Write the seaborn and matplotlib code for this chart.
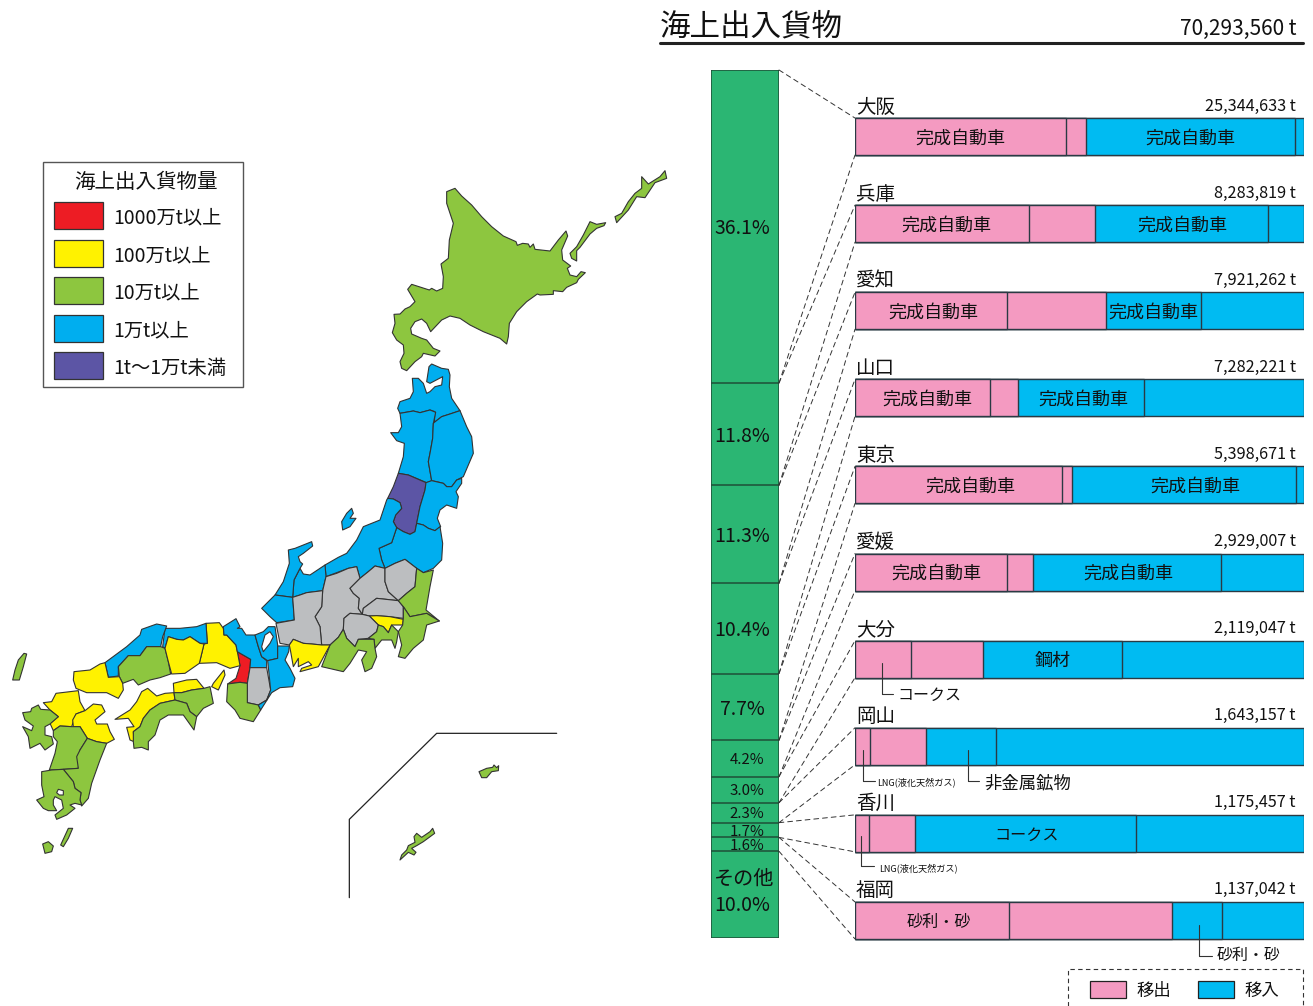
import matplotlib
matplotlib.use("Agg")
import numpy as np
import pandas as pd
import seaborn as sns
from matplotlib import pyplot as plt
from matplotlib.patches import ConnectionPatch, Rectangle

# share of total cargo per prefecture, %
column_names = ["大阪", "兵庫", "愛知", "山口", "東京", "愛媛", "大分", "岡山", "香川", "福岡", "その他"]
column_shares = [36.1, 11.8, 11.3, 10.4, 7.7, 4.2, 3.0, 2.3, 1.7, 1.6, 10.0]

prefectures = column_names[:10]
tonnage = ["25,344,633 t", "8,283,819 t", "7,921,262 t", "7,282,221 t", "5,398,671 t",
           "2,929,007 t", "2,119,047 t", "1,643,157 t", "1,175,457 t", "1,137,042 t"]
total_tonnage = "70,293,560 t"

# each bar: outgoing main item, outgoing rest, incoming main item, incoming rest (%)
out_main = [47.0, 38.8, 33.9, 30.1, 46.1, 33.9, 12.5, 3.3, 3.1, 34.3]
out_rest = [4.5, 14.7, 22.0, 6.2, 2.2, 5.8, 16.0, 12.5, 10.2, 36.3]
in_main = [46.5, 38.5, 21.2, 28.1, 49.9, 41.9, 31.0, 15.6, 49.2, 11.1]
in_rest = [2.0, 8.0, 22.9, 35.6, 1.8, 18.4, 40.5, 68.6, 37.5, 18.3]

# map outlines, in crop pixels
osaka = [(712,395),(752,418),(750,443),(742,490),(720,487),(683,492),(708,475),(720,437)]
hyogo = [(618,310),(658,308),(670,325),(672,345),(680,345),(708,375),(712,395),(720,437),(690,445),(650,428),(598,430),(612,372),(622,370)]
awaji = [(672,450),(675,465),(655,510),(635,500),(640,490)]
kyoto = [(670,320),(708,296),(720,320),(712,325),(725,325),(738,345),(765,345),(775,380),(785,410),(800,422),(800,443),(750,443),(752,418),(712,395),(708,375),(680,345),(672,345)]
shiga = [(805,320),(825,320),(833,375),(833,415),(803,422),(785,410),(775,380),(765,345),(790,335)]
biwa = [(810,335),(820,350),(810,370),(790,395),(785,380),(795,345)]
nara = [(750,443),(800,443),(812,510),(800,540),(775,555),(742,548),(742,490)]
wakayama = [(683,492),(720,487),(742,490),(742,548),(775,555),(782,570),(760,605),(720,595),(705,570),(680,545)]
mie = [(833,378),(868,378),(866,395),(855,420),(870,445),(885,475),(878,500),(840,503),(815,518),(782,570),(775,555),(800,540),(812,510),(803,422),(833,415)]
tottori = [(488,380),(495,325),(540,325),(590,320),(618,310),(622,370),(600,370),(570,350),(550,360),(530,358),(505,350),(495,385)]
shimane = [(315,428),(380,380),(420,345),(425,328),(470,312),(500,318),(488,350),(482,380),(440,380),(420,407),(385,407),(355,440),(355,468),(325,472)]
hiroshima = [(355,440),(385,407),(420,407),(440,380),(482,380),(495,385),(505,425),(512,462),(480,473),(450,480),(415,495),(400,478),(368,490),(358,470)]
okayama = [(495,385),(505,350),(530,358),(550,360),(570,350),(600,370),(612,372),(598,430),(555,460),(515,462),(505,425)]
yamaguchi = [(222,455),(270,450),(300,432),(315,428),(325,472),(358,470),(368,490),(370,510),(355,535),(320,518),(260,518),(228,505),(220,480)]
fukuoka = [(130,548),(155,545),(168,520),(235,512),(240,545),(255,572),(228,582),(215,620),(180,618),(160,632),(150,610),(175,590),(150,570)]
oita = [(218,600),(228,582),(255,572),(280,552),(305,555),(315,575),(285,600),(290,612),(322,612),(330,635),(343,658),(320,670),(290,665),(262,655),(240,620),(220,620)]
nagasaki = [(68,578),(92,575),(95,565),(115,555),(122,568),(150,570),(175,590),(150,612),(135,620),(135,645),(155,650),(160,672),(135,690),(120,670),(90,685),(85,650),(68,620),(95,632),(100,618),(75,600)]
kumamoto = [(160,632),(180,618),(215,620),(240,620),(262,655),(240,690),(235,745),(190,748),(148,750),(165,700),(172,665),(160,650)]
miyazaki = [(262,655),(290,665),(320,670),(300,720),(275,790),(265,835),(245,858),(240,840),(243,818),(225,805),(220,785),(190,748),(235,745),(230,710),(240,690)]
kagoshima = [(125,755),(155,750),(190,748),(220,785),(225,805),(243,818),(240,840),(245,855),(225,850),(210,855),(225,865),(200,885),(170,898),(165,885),(190,865),(185,840),(165,830),(160,840),(160,855),(170,872),(145,872),(130,865),(110,840),(132,830),(125,795)]
kinko_bay = [(175,808),(190,812),(190,825),(178,825),(170,818)]
yakushima = [(128,972),(145,965),(160,978),(155,995),(135,1000)]
tanegashima = [(205,925),(218,925),(205,955),(190,980),(182,975)]
tsushima = [(72,400),(80,402),(70,440),(58,480),(38,480),(45,450),(55,420)]
ehime = [(345,598),(390,570),(410,545),(425,515),(443,505),(470,528),(495,520),(522,518),(525,540),(480,550),(450,570),(430,595),(420,620),(400,635),(402,665),(390,660),(380,622),(402,620),(385,595)]
kagawa = [(520,490),(560,480),(590,478),(612,505),(575,510),(545,518),(522,518)]
tokushima = [(522,518),(545,518),(575,510),(612,505),(630,500),(640,550),(610,565),(590,590),(570,575),(560,550),(525,540)]
kochi = [(400,635),(420,620),(430,595),(450,570),(480,550),(525,540),(560,550),(570,575),(590,590),(582,630),(550,585),(505,585),(480,600),(465,645),(445,665),(445,690),(425,682),(402,685),(400,665)]

aomori = [(443,175),(450,155),(480,145),(490,125),(487,85),(505,85),(520,100),(530,130),(540,125),(555,110),(575,105),(578,80),(540,100),(530,95),(537,50),(545,42),(575,55),(595,58),(600,75),(598,110),(605,145),(630,182),(600,192),(575,200),(553,217),(555,185),(540,180),(510,188),(490,183),(450,190)]
akita = [(450,190),(490,183),(510,188),(540,180),(557,187),(550,220),(548,265),(540,310),(535,335),(545,392),(530,398),(475,375),(445,370),(460,320),(463,280),(440,272),(422,248),(445,248),(455,230)]
iwate = [(553,217),(575,200),(600,192),(630,182),(650,230),(665,260),(670,310),(655,345),(640,380),(620,390),(605,410),(590,410),(580,400),(560,395),(545,392),(535,335),(540,310),(548,265),(550,220)]
yamagata = [(445,370),(475,375),(528,398),(525,420),(510,470),(500,520),(495,545),(480,553),(460,545),(440,533),(430,515),(437,495),(455,475),(450,458),(430,447),(413,445),(430,410)]
miyagi = [(528,398),(545,392),(580,400),(590,410),(605,410),(620,390),(635,385),(635,400),(618,425),(625,440),(620,475),(590,465),(570,480),(562,505),(572,530),(555,542),(535,535),(520,525),(500,520),(510,470),(525,420)]
fukushima = [(440,533),(460,545),(480,553),(495,545),(500,520),(520,525),(535,535),(555,542),(570,530),(578,580),(575,630),(550,655),(520,668),(500,655),(465,628),(435,640),(405,655),(395,630),(387,595),(425,578)]
niigata = [(413,445),(430,447),(450,458),(455,475),(437,495),(430,515),(440,533),(425,578),(387,595),(395,630),(405,655),(375,648),(355,665),(330,685),(320,650),(295,655),(260,668),(228,680),(225,645),(265,622),(290,610),(320,570),(340,530),(390,510),(400,480),(410,450)]
sado = [(305,475),(310,490),(300,505),(318,505),(300,530),(278,540),(275,515),(290,490)]
toyama = [(225,645),(228,680),(218,722),(170,728),(150,735),(128,742),(132,690),(150,655),(160,672),(180,675),(210,655)]
ishikawa = [(115,600),(135,595),(185,575),(188,588),(160,610),(145,620),(150,635),(158,642),(150,655),(132,690),(128,742),(75,735),(100,695),(118,640)]
fukui = [(35,775),(75,735),(128,742),(130,768),(133,810),(80,818),(60,800)]
nagano = [(228,680),(260,670),(295,655),(320,650),(330,685),(300,715),(310,730),(328,745),(325,775),(337,793),(300,790),(282,805),(280,838),(265,862),(240,885),(215,885),(210,830),(195,800),(215,770),(218,722)]
gifu = [(128,742),(150,735),(170,728),(218,722),(215,770),(195,800),(210,830),(215,885),(185,882),(160,880),(130,868),(118,885),(90,880),(78,820),(133,810),(130,768)]
gunma = [(300,715),(330,685),(355,665),(375,648),(405,655),(405,695),(415,725),(445,752),(380,745),(340,775),(337,793),(325,775),(328,745),(310,730)]
tochigi = [(405,655),(435,640),(465,628),(500,655),(495,710),(470,730),(445,752),(415,725),(405,695)]
saitama = [(337,793),(340,775),(380,745),(445,752),(460,770),(460,805),(420,800),(380,797),(358,798)]
tokyo = [(358,798),(380,797),(420,800),(460,808),(458,825),(425,825),(415,848),(400,830),(385,825)]
yamanashi = [(282,805),(300,790),(337,793),(358,798),(385,825),(380,845),(355,865),(325,868),(315,890),(290,865),(280,838)]
kanagawa = [(355,865),(380,845),(385,825),(400,830),(415,848),(425,825),(445,845),(440,875),(435,895),(425,870),(395,870),(375,895),(372,868)]
shizuoka = [(280,838),(290,865),(315,890),(325,868),(372,868),(375,895),(380,920),(365,955),(345,965),(335,930),(350,905),(325,900),(300,940),(280,965),(215,950),(240,885),(265,862)]
ibaraki = [(500,655),(520,668),(550,660),(540,710),(528,780),(568,813),(530,790),(505,795),(480,800),(460,770),(445,752),(470,730),(495,710)]
chiba = [(460,770),(480,800),(505,795),(530,790),(568,813),(530,825),(520,870),(490,895),(465,925),(445,920),(455,885),(445,845),(458,825),(460,805)]
aichi = [(130,868),(160,880),(185,882),(215,885),(240,885),(205,950),(150,965),(155,955),(185,945),(175,935),(145,950),(145,925),(130,950),(122,905),(118,885)]

hokkaido = [(200,95),(225,85),(245,108),(275,135),(305,170),(335,200),(370,228),(408,245),(412,256),(428,250),(445,252),(450,262),(460,252),(465,268),(510,273),(535,240),(558,213),(563,228),(545,270),(548,300),(572,318),(562,325),(570,345),(590,350),(603,335),(616,338),(595,358),(590,368),(560,382),(548,395),(520,392),(520,403),(480,405),(472,402),(440,425),(410,455),(388,490),(385,530),(380,552),(360,535),(310,515),(270,495),(240,475),(210,468),(185,480),(152,515),(140,490),(125,477),(105,485),(92,505),(95,522),(125,535),(140,540),(160,565),(180,573),(165,588),(130,580),(125,590),(105,605),(80,632),(65,625),(60,605),(72,580),(70,555),(50,540),(37,518),(45,490),(42,463),(60,462),(75,447),(90,440),(105,425),(83,388),(95,373),(148,390),(155,385),(170,393),(188,385),(190,350),(183,312),(205,295),(208,240),(220,190),(200,130)]
kunashiri = [(570,280),(590,260),(610,225),(630,185),(650,193),(677,188),(672,197),(650,205),(630,222),(600,262),(590,272),(590,303),(575,295)]
etorofu = [(705,170),(725,160),(745,125),(765,100),(785,85),(785,50),(805,72),(840,50),(855,32),(860,55),(825,68),(795,113),(770,110),(745,150),(710,188)]

okinawa = [(180,405),(185,390),(200,375),(205,362),(225,352),(222,335),(230,325),(245,337),(270,320),(278,310),(284,325),(250,350),(230,362),(215,370),(228,382),(222,390),(205,382)]
amami = [(417,140),(440,130),(458,127),(462,120),(470,128),(476,122),(475,137),(455,140),(440,158),(425,158)]
inset_frame = [(28,518),(28,283),(290,25),(650,25)]

legend_title = "海上出入貨物量"
legend_labels = ["1000万t以上", "100万t以上", "10万t以上", "1万t以上", "1t～1万t未満"]

RED, YELLOW, GREEN, BLUE, PURPLE, GRAY = "#ED1C24", "#FFF200", "#8DC63F", "#00AEEF", "#5C55A5", "#BCBEC0"
PINK, BAR_BLUE, COL_GREEN = "#F49AC1", "#00BBF2", "#2BB673"
EDGE = "#333333"

west_map = [(osaka, RED), (hyogo, YELLOW), (awaji, YELLOW), (kyoto, BLUE), (shiga, BLUE), (biwa, "white"),
            (nara, GRAY), (wakayama, GREEN), (mie, BLUE), (tottori, BLUE), (shimane, BLUE),
            (hiroshima, GREEN), (okayama, YELLOW), (yamaguchi, YELLOW), (fukuoka, YELLOW), (oita, YELLOW),
            (nagasaki, GREEN), (kumamoto, GREEN), (miyazaki, GREEN), (kagoshima, GREEN), (kinko_bay, "white"),
            (yakushima, GREEN), (tanegashima, GREEN), (tsushima, GREEN),
            (ehime, YELLOW), (kagawa, YELLOW), (tokushima, GREEN), (kochi, GREEN)]
east_map = [(aomori, BLUE), (akita, BLUE), (iwate, BLUE), (yamagata, PURPLE), (miyagi, BLUE), (fukushima, BLUE),
            (niigata, BLUE), (sado, BLUE), (toyama, BLUE), (ishikawa, BLUE), (fukui, BLUE), (nagano, GRAY),
            (gifu, GRAY), (gunma, GRAY), (tochigi, GRAY), (saitama, GRAY), (tokyo, YELLOW), (yamanashi, GRAY),
            (kanagawa, GREEN), (shizuoka, GREEN), (ibaraki, GREEN), (chiba, GREEN), (aichi, YELLOW)]
north_map = [(hokkaido, GREEN), (kunashiri, GREEN), (etorofu, GREEN)]
south_map = [(okinawa, GREEN), (amami, GREEN)]

sns.set_theme(style="white")
plt.rcParams['font.family'] = ['Liberation Sans Narrow', 'Noto Sans CJK JP', 'DejaVu Sans']
JP = ['Noto Sans CJK JP', 'DejaVu Sans']

W, H = 1313, 1006
fig = plt.figure(figsize=(W / 100, H / 100), dpi=100)


def px_axes(left, top, right, bottom):
    return fig.add_axes([left / W, 1 - bottom / H, (right - left) / W, (bottom - top) / H])


# full figure layer for map and free text, in picture pixels
ax = px_axes(0, 0, W, H)
ax.set_xlim(0, W)
ax.set_ylim(H, 0)
ax.axis("off")


def draw_map(shapes, ox, oy):
    for outline, colour in shapes:
        xy = np.array(outline, dtype=float) / 3 + (ox, oy)
        ax.fill(xy[:, 0], xy[:, 1], facecolor=colour, edgecolor=EDGE, lw=0.8, joinstyle="round")


draw_map(north_map, 380, 160)
draw_map(east_map, 250, 350)
draw_map(west_map, 0, 520)
draw_map(south_map, 340, 725)
frame = np.array(inset_frame) / 3 + (340, 725)
ax.plot(frame[:, 0], frame[:, 1], color="#222222", lw=0.9)

# map legend
ax.add_patch(Rectangle((42.5, 162), 200.5, 225, fc="white", ec="#555555", lw=1))
ax.text(146, 182, legend_title, family=JP, fontsize=14.8, ha="center", va="center", color="#111111")
swatch_colours = [RED, YELLOW, GREEN, BLUE, PURPLE]
for i, (lab, c) in enumerate(zip(legend_labels, swatch_colours)):
    top = 202 + i * 37.5
    ax.add_patch(Rectangle((54, top), 49, 27, fc=c, ec="#333333", lw=0.9))
    ax.text(113, top + 16, lab, family=JP, fontsize=13.9, ha="left", va="center", color="#111111")

# header
ax.text(660, 27, "海上出入貨物", family=JP, fontsize=22, ha="left", va="center", color="#111111")
ax.text(1296, 29, total_tonnage, fontsize=15, ha="right", va="center", color="#111111")
ax.plot([660, 1303], [43, 43], color="#222222", lw=2.2)

# share column
col_ax = px_axes(711, 70, 779, 938)
cum_share = np.cumsum(column_shares)
col_df = pd.DataFrame({"group": ["all"] * len(column_names), "name": column_names, "upto": cum_share})
for _, row in col_df[::-1].iterrows():
    sns.barplot(x=[row["group"]], y=[row["upto"]], color=COL_GREEN, saturation=1, width=1,
                edgecolor="#1F4F38", linewidth=1.1, ax=col_ax)
col_ax.set_xlim(-0.5, 0.5)
col_ax.set_ylim(cum_share[-1], 0)
col_ax.axis("off")
mids = cum_share - np.array(column_shares) / 2
for i, share in enumerate(column_shares[:-1]):
    big = share > 5
    col_ax.text(-0.04 if big else 0.03, mids[i] + (0.25 if big else 0.18), f"{share:.1f}%", fontsize=14 if big else 10.8,
                ha="center", va="center", color="#111111")
col_ax.annotate("その他", (0, mids[-1]), xytext=(-1, 11), textcoords="offset points", family=JP,
                fontsize=14.5, ha="center", va="center", color="#111111")
col_ax.annotate(f"{column_shares[-1]:.1f}%", (0, mids[-1]), xytext=(-2, -8), textcoords="offset points",
                fontsize=14, ha="center", va="center", color="#111111")

# prefecture bars, stacked by drawing the running totals from longest to shortest
bar_ax = px_axes(855, 93, 1304, 964)
parts = np.array([out_main, out_rest, in_main, in_rest])
running = np.cumsum(parts, axis=0)
colours = [PINK, PINK, BAR_BLUE, BAR_BLUE]
bar_h = 37 / 87.1
for k in range(3, -1, -1):
    sns.barplot(x=running[k], y=prefectures, color=colours[k], saturation=1, width=bar_h, orient="h",
                edgecolor="#2A3A44", linewidth=1, ax=bar_ax)
bar_ax.set_xlim(0, running[-1].max())
bar_ax.set_ylim(9.5, -0.5)
bar_ax.axis("off")

# connectors between column and bars
tops = np.concatenate([[0], cum_share[:-1]])
for i in range(10):
    for column_y, bar_y in ((tops[i], i - bar_h / 2), (cum_share[i], i + bar_h / 2)):
        fig.add_artist(ConnectionPatch(xyA=(0.5, column_y), coordsA=col_ax.transData,
                                       xyB=(0, bar_y), coordsB=bar_ax.transData,
                                       color="#333333", lw=0.7, ls=(0, (5, 4))))

# names and tonnage above the bars
for i, (name, t) in enumerate(zip(prefectures, tonnage)):
    y = 118 + i * 87.1
    ax.text(856, y - 11, name, family=JP, fontsize=14, ha="left", va="center", color="#111111")
    ax.text(1296, y - 12, t, fontsize=11.7, ha="right", va="center", color="#111111")

# labels inside segments, centres in picture pixels
inner_labels = [("完成自動車", 0, 960), ("完成自動車", 0, 1190), ("完成自動車", 1, 946), ("完成自動車", 1, 1182),
                ("完成自動車", 2, 933), ("完成自動車", 2, 1153), ("完成自動車", 3, 927), ("完成自動車", 3, 1083),
                ("完成自動車", 4, 970), ("完成自動車", 4, 1195), ("完成自動車", 5, 936), ("完成自動車", 5, 1128),
                ("鋼材", 6, 1053), ("コークス", 8, 1027), ("砂利・砂", 9, 939)]
for text, row, x in inner_labels:
    size = 11.6 if len(text) == 4 else 13
    bar_ax.text((x - 855) / 449 * bar_ax.get_xlim()[1], row + 0.02, text, family=JP, fontsize=size,
                ha="center", va="center", color="#111111")

# leader lines below the bars
leaders = [(882, 663, 694, 893, "コークス", 897, 695, 11.5), (968, 750, 781, 979, "非金属鉱物", 984, 783, 12.5),
           (1199, 925, 956, 1212, "砂利・砂", 1217, 955, 11.5)]
for x0, y0, y1, x1, text, tx, ty, size in leaders:
    ax.plot([x0, x1], [y1, y1], color="#333333", lw=0.8)
    ax.text(tx, ty, text, family=JP, fontsize=size, ha="left", va="center", color="#111111")
    bar_ax.plot([(x0 - 855) / 449 * bar_ax.get_xlim()[1]] * 2, [(y0 - 136.5) / 87.1, (y1 - 136.5) / 87.1],
                color="#333333", lw=0.8, clip_on=False)
for x0, y0, y1, x1, tx, ty in [(862.5, 750, 781, 875, 877, 782), (861, 836, 866, 874, 879, 868)]:
    bar_ax.plot([(x0 - 855) / 449 * bar_ax.get_xlim()[1]] * 2, [(y0 - 136.5) / 87.1, (y1 - 136.5) / 87.1],
                color="#333333", lw=0.8, clip_on=False)
    ax.plot([x0, x1], [y1, y1], color="#333333", lw=0.8)
    ax.text(tx, ty, "LNG(液化天然ガス)", family=JP, fontsize=6.6, ha="left", va="center", color="#111111")

# bottom legend
ax.plot([1068, 1068, 1303, 1303], [1006, 969, 969, 1006], color="#333333", lw=0.8, ls=(0, (4, 3)))
for x, c, lab, tx in [(1090, PINK, "移出", 1137), (1198, BAR_BLUE, "移入", 1245)]:
    ax.add_patch(Rectangle((x, 981), 36, 17, fc=c, ec="#222222", lw=0.9))
    ax.text(tx, 991, lab, family=JP, fontsize=12.5, ha="left", va="center", color="#111111")

fig.savefig("out.png", dpi=100)
